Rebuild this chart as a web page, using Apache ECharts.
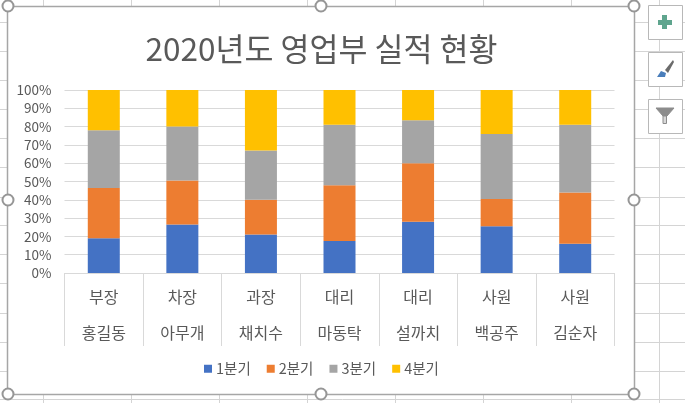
<!DOCTYPE html>
<html><head><meta charset="utf-8">
<style>html,body{margin:0;padding:0;background:#fff}#c{width:685px;height:403px}</style>
<script src="https://cdn.jsdelivr.net/npm/echarts@6/dist/echarts.min.js"></script>
</head><body><div id="c"></div>
<script>
const ranks = ['부장','차장','과장','대리','대리','사원','사원'];
const names = ['홍길동','아무개','채치수','마동탁','설까치','백공주','김순자'];
const q1 = [19, 26.5, 21, 17.5, 28, 25.5, 16];
const q2 = [27.5, 24, 19, 30.5, 32, 15, 28];
const q3 = [31.5, 29.5, 27, 33, 23.5, 35.5, 37];
const q4 = [22, 20, 33, 19, 16.5, 24, 19];
const seriesNames = ['1분기','2분기','3분기','4분기'];
const colors = ['#4472C4','#ED7D31','#A5A5A5','#FFC000'];
const font = '"Noto Sans CJK KR","Noto Sans",sans-serif';
const cells = ranks.map((r,i)=>r+'\n'+names[i]);
const sheetX = [43,131,219,307,395,483,571,659];
const sheetY = [22,51,80,109,138,167,197,225,254,283,313,342,371,399];
const handles = [[8,6],[321,6],[634,6],[8,200],[634,200],[8,394],[321,394],[634,394]];
const buttonY = [5,52,99];
const g = [];
sheetX.forEach(x=>g.push({type:'line',z:-10,silent:true,shape:{x1:x+.5,y1:0,x2:x+.5,y2:403},style:{stroke:'#d4d4d4',lineWidth:1}}));
sheetY.forEach(y=>g.push({type:'line',z:-10,silent:true,shape:{x1:0,y1:y+.5,x2:685,y2:y+.5},style:{stroke:'#d4d4d4',lineWidth:1}}));
g.push({type:'rect',z:-5,silent:true,shape:{x:7.5,y:6.5,width:627,height:388},style:{fill:'#fff',stroke:'#a6a6a6',lineWidth:1.5}});
handles.forEach(p=>g.push({type:'circle',z:50,silent:true,shape:{cx:p[0],cy:p[1],r:5.5},style:{fill:'#fff',stroke:'#969696',lineWidth:2}}));
buttonY.forEach(y=>g.push({type:'rect',z:-4,silent:true,shape:{x:648.5,y:y+.5,width:34,height:34},style:{fill:'#fff',stroke:'#b8b8b8',lineWidth:1}}));
g.push({type:'polygon',z:50,silent:true,shape:{points:[[662,15],[667,15],[667,20],[672,20],[672,25],[667,25],[667,29],[662,29],[662,25],[658,25],[658,20],[662,20]]},style:{fill:'#5FA58E'}});
g.push({type:'polygon',z:50,silent:true,shape:{points:[[657,77],[661,71],[666,73],[665,77]]},style:{fill:'#4A7EBB'}});
g.push({type:'polygon',z:50,silent:true,shape:{points:[[665,70],[673,60],[674,62],[668,73]]},style:{fill:'#6b6b6b'}});
g.push({type:'polygon',z:50,silent:true,shape:{points:[[656,108],[674,108],[667,116],[663,116]]},style:{fill:'#8c8c8c',stroke:'#8c8c8c',lineWidth:1}});
g.push({type:'rect',z:50,silent:true,shape:{x:663,y:116,width:3.5,height:7.5},style:{fill:'#d8d8d8',stroke:'#8c8c8c',lineWidth:1}});
const mk=(name,data,i)=>({name,type:'bar',stack:'t',data,barWidth:32,itemStyle:{color:colors[i]}});
const chart = echarts.init(document.getElementById('c'));
chart.setOption({
 animation:false,
 title:{text:'2020년도 영업부 실적 현황',left:316.5,top:28,textAlign:'center',textStyle:{fontFamily:font,fontSize:31.5,fontWeight:'normal',color:'#595959'}},
 grid:{left:64.5,right:70.5,top:90,bottom:130},
 legend:{bottom:22,left:199,itemWidth:8,itemHeight:8,itemGap:16,icon:'rect',data:seriesNames,textStyle:{fontFamily:font,fontSize:14.5,color:'#595959',padding:[0,0,0,-1]}},
 xAxis:{type:'category',data:cells,
  axisLine:{lineStyle:{color:'#d9d9d9'}},
  axisTick:{show:true,length:73,alignWithLabel:false,lineStyle:{color:'#d9d9d9'}},
  axisLabel:{interval:0,fontFamily:font,fontSize:16,color:'#595959',lineHeight:36,margin:6}},
 yAxis:{type:'value',min:0,max:100,interval:10,
  axisLine:{show:false},axisTick:{show:false},
  splitLine:{lineStyle:{color:'#d9d9d9'}},
  axisLabel:{formatter:'{value}%',fontFamily:font,fontSize:13.5,color:'#595959',margin:13}},
 series:[mk(seriesNames[0],q1,0),mk(seriesNames[1],q2,1),mk(seriesNames[2],q3,2),mk(seriesNames[3],q4,3)],
 graphic:{elements:g}
});
</script></body></html>
